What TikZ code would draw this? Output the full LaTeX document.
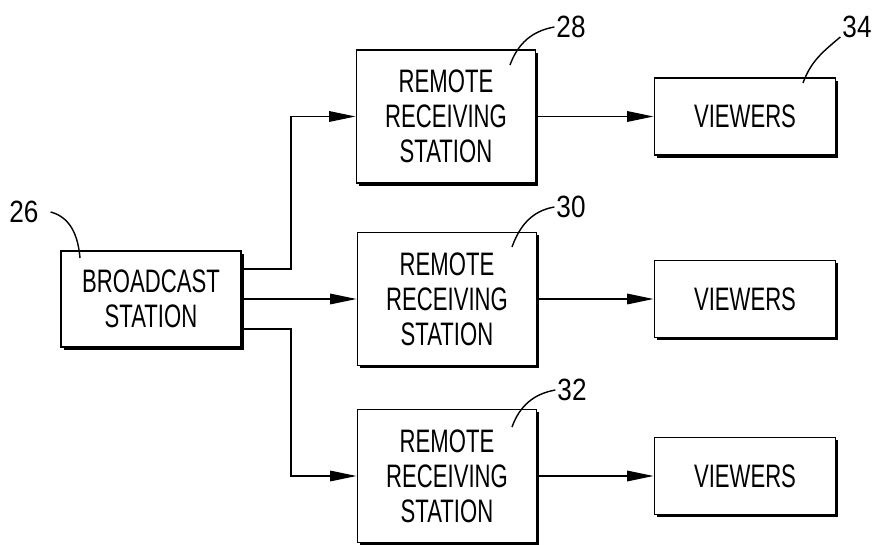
\documentclass[tikz,border=0pt]{standalone}
\usepackage{fontspec}
\setmainfont[FakeStretch=0.68]{Liberation Sans}
\newfontfamily\labelfont[FakeStretch=0.85]{Liberation Sans}
\usetikzlibrary{arrows.meta,shadows}

\begin{document}
\begin{tikzpicture}[
  box/.style={draw,line width=1.1pt,fill=white,align=center,inner sep=0pt,
    font=\fontsize{18.5}{20}\selectfont,
    drop shadow={shadow xshift=1.5pt,shadow yshift=-1.5pt,fill=black,opacity=1}},
  station/.style={box,minimum width=3.58cm,minimum height=2.66cm},
  viewer/.style={box,minimum width=3.62cm,minimum height=1.54cm},
  num/.style={font=\labelfont\fontsize{17.5}{18}\selectfont,inner sep=1pt},
  arr/.style={line width=0.8pt,-{Triangle[length=15pt,width=6pt]}},
  lead/.style={line width=0.8pt}]
\useasboundingbox (0,0) rectangle (17.52,10.88);
% blocks
\node[box,minimum width=3.6cm,minimum height=1.92cm] (bc) at (3.02,4.9) {BROADCAST\\STATION};
\node[station] (r1) at (8.92,8.55) {REMOTE\\RECEIVING\\STATION};
\node[station] (r2) at (8.94,4.9) {REMOTE\\RECEIVING\\STATION};
\node[station] (r3) at (8.94,1.36) {REMOTE\\RECEIVING\\STATION};
\node[viewer] (v1) at (14.9,8.55) {VIEWERS};
\node[viewer] (v2) at (14.9,4.9) {VIEWERS};
\node[viewer] (v3) at (14.9,1.36) {VIEWERS};
% connections
\coordinate (fork) at (5.82,4.9);
\draw[arr] ([yshift=0.6cm]bc.east) -| (fork |- r1.west) -- (r1.west);
\draw[arr] (bc.east) -- (r2.west);
\draw[arr] ([yshift=-0.6cm]bc.east) -| (fork |- r3.west) -- (r3.west);
\foreach \i in {1,2,3}
  \draw[arr] (r\i.east) -- (v\i.west);
% reference numerals
\node[num] (l26) at (0.48,6.64) {26};
\node[num] (l28) at (11.42,10.34) {28};
\node[num] (l30) at (11.42,6.74) {30};
\node[num] (l32) at (11.44,3.08) {32};
\node[num] (l34) at (17.14,10.34) {34};
\coordinate (t26) at (1.6,5.72);
\coordinate (t28) at (10.2,9.58);
\coordinate (t30) at (10.24,5.94);
\coordinate (t32) at (10.24,2.34);
\coordinate (t34) at (16.06,9.22);
\draw[lead] ([xshift=0.2cm]l26.east) to[out=-15,in=95] (t26);
\draw[lead] (l28.west) to[out=190,in=70] (t28);
\draw[lead] (l30.west) to[out=190,in=70] (t30);
\draw[lead] (l32.west) to[out=190,in=70] (t32);
\draw[lead] ([yshift=-0.2cm]l34.west) to[out=220,in=70] (t34);
\end{tikzpicture}
\end{document}
